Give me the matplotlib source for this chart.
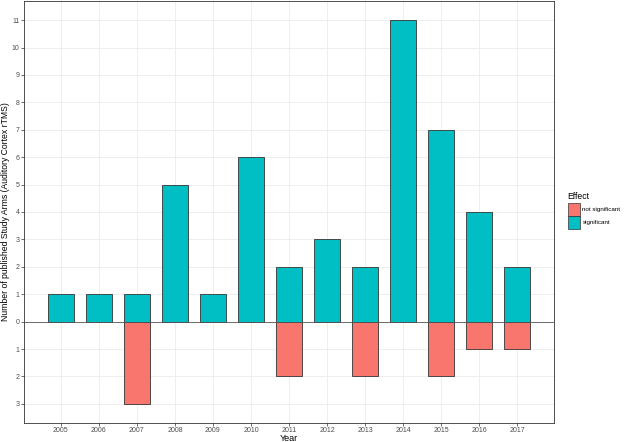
import numpy as np
import matplotlib
matplotlib.use("Agg")
import matplotlib.pyplot as plt
from matplotlib.patches import Rectangle

plt.rcParams["font.family"] = ["Liberation Sans", "DejaVu Sans"]

years = [2005, 2006, 2007, 2008, 2009, 2010, 2011, 2012, 2013, 2014, 2015, 2016, 2017]
significant = [1, 1, 1, 5, 1, 6, 2, 3, 2, 11, 7, 4, 2]
not_significant = [0, 0, 3, 0, 0, 0, 2, 0, 2, 0, 2, 1, 1]
y_ticks = [-3, -2, -1, 0, 1, 2, 3, 4, 5, 6, 7, 8, 9, 10, 11]
effects = ["not significant", "significant"]

col_sig = "#00BFC4"
col_ns = "#F8766D"

W, H = 624, 442
fig = plt.figure(figsize=(6.24, 4.42), dpi=100)
ax = fig.add_axes([24 / W, 19 / H, 530 / W, 422 / H])

x = np.array(years)
ax.bar(x, significant, width=0.7, color=col_sig, edgecolor="#333333", linewidth=0.6, zorder=3)
ns = np.array(not_significant)
mask = ns > 0
ax.bar(x[mask], -ns[mask], width=0.7, color=col_ns, edgecolor="#333333", linewidth=0.6, zorder=3)
ax.axhline(0, color="#555555", linewidth=0.6, zorder=4)

ax.set_xlim(2004.03, 2017.97)
ax.set_ylim(-3.7, 11.7)
ax.set_xticks(years)
ax.set_xticklabels([str(y) for y in years])
ax.set_yticks(y_ticks)
ax.set_yticklabels([str(abs(v)) for v in y_ticks])
ax.grid(True, color="#EBEBEB", linewidth=0.6, zorder=0)
ax.tick_params(axis="both", labelsize=5, labelcolor="#4D4D4D", color="#333333",
               length=2, width=0.5, pad=1.2)
for s in ax.spines.values():
    s.set_color("#333333")
    s.set_linewidth(0.6)

fig.text(289 / W, 1 - 438.5 / H, "Year", fontsize=6.5, ha="center", va="center")
fig.text(6 / W, 1 - 212 / H, "Number of published Study Arms (Auditory Cortex rTMS)",
         fontsize=6.2, rotation=90, ha="center", va="center")

# legend drawn by hand (ggplot-style stacked keys)
fig.text(567.5 / W, 1 - 196.5 / H, "Effect", fontsize=6.2, ha="left", va="center")
key_top = 203
for i, (lab, col) in enumerate(zip(effects, [col_ns, col_sig])):
    y0 = key_top + i * 13
    fig.patches.append(Rectangle((567.7 / W, 1 - (y0 + 13) / H), 12 / W, 13 / H,
                                 transform=fig.transFigure, facecolor=col,
                                 edgecolor="#333333", linewidth=0.5))
    fig.text(582.5 / W, 1 - (y0 + 6.5) / H, lab, fontsize=4.5, ha="left", va="center")

fig.savefig("out.png", dpi=100)
